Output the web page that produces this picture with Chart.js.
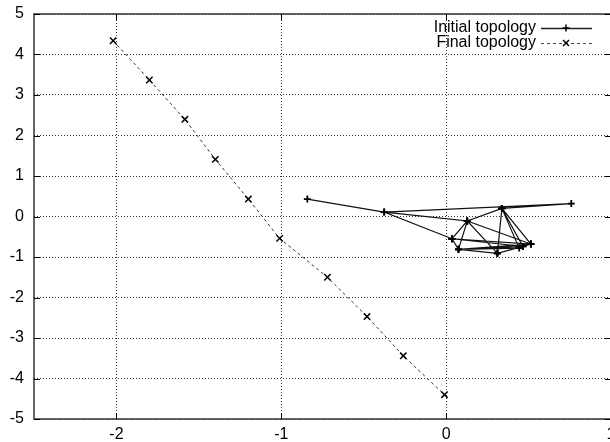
<!DOCTYPE html>
<html>
<head>
<meta charset="utf-8">
<script src="https://cdn.jsdelivr.net/npm/chart.js@4/dist/chart.umd.min.js"></script>
<style>
  body { margin: 0; background: white; overflow: hidden; }
  #caixa { width: 610px; height: 442px; overflow: hidden; }
</style>
</head>
<body>
<div id="caixa"><canvas id="grafico" width="617" height="442"></canvas></div>
<script>
var xTicks = [-2, -1, 0, 1];
var yTicks = [-5, -4, -3, -2, -1, 0, 1, 2, 3, 4, 5];

// topologia final (marcadores x, linha tracejada)
var finalX = [-2.02, -1.80, -1.585, -1.40, -1.20, -1.01, -0.72, -0.48, -0.26, -0.01];
var finalY = [4.34, 3.37, 2.40, 1.41, 0.43, -0.54, -1.50, -2.47, -3.44, -4.40];

// topologia inicial (marcadores +, linha cheia), na ordem do caminho
var initialX = [-0.842, -0.376, 0.759, 0.338, 0.128, 0.311, 0.466, 0.035, 0.514, 0.338, 0.443, 0.075,
  0.128, 0.514, 0.075, 0.311, 0.514, 0.035, -0.376, 0.128, 0.035, 0.075, 0.466, 0.338, 0.311];
var initialY = [0.43, 0.11, 0.32, 0.20, -0.11, -0.91, -0.74, -0.55, -0.68, 0.20, -0.78, -0.81,
  -0.11, -0.68, -0.81, -0.91, -0.68, -0.55, 0.11, -0.11, -0.55, -0.81, -0.74, 0.20, -0.91];

var legendas = ["Initial topology", "Final topology"];

function pontos(xs, ys) {
  var lista = [];
  for (var i = 0; i < xs.length; i++) {
    lista.push({ x: xs[i], y: ys[i] });
  }
  return lista;
}

var fonte = "Liberation Sans, Arial, sans-serif";

// moldura, marcas internas e legenda no estilo gnuplot
var moldura = {
  id: "moldura",
  afterDraw: function (chart) {
    var ctx = chart.ctx;
    var area = chart.chartArea;
    var sx = chart.scales.x;
    var sy = chart.scales.y;
    ctx.save();
    ctx.strokeStyle = "#333";
    ctx.lineWidth = 1.5;
    ctx.strokeRect(area.left, area.top, area.right - area.left, area.bottom - area.top);
    ctx.lineWidth = 1;
    ctx.strokeStyle = "#000";
    ctx.beginPath();
    for (var i = 0; i < xTicks.length; i++) {
      var px = Math.round(sx.getPixelForValue(xTicks[i])) + 0.5;
      ctx.moveTo(px, area.bottom);
      ctx.lineTo(px, area.bottom - 6);
      ctx.moveTo(px, area.top);
      ctx.lineTo(px, area.top + 6);
    }
    for (var j = 0; j < yTicks.length; j++) {
      var py = Math.round(sy.getPixelForValue(yTicks[j])) + 0.5;
      ctx.moveTo(area.left, py);
      ctx.lineTo(area.left + 6, py);
      ctx.moveTo(area.right, py);
      ctx.lineTo(area.right - 6, py);
    }
    ctx.stroke();

    // legenda
    ctx.font = "16px " + fonte;
    ctx.fillStyle = "#000";
    ctx.textAlign = "right";
    ctx.textBaseline = "middle";
    var linhas = [28, 43];
    for (var k = 0; k < legendas.length; k++) {
      var y = linhas[k];
      ctx.fillText(legendas[k], 536, y);
      ctx.beginPath();
      ctx.setLineDash(k == 0 ? [] : [3, 3]);
      ctx.strokeStyle = k == 0 ? "#222" : "#444";
      ctx.lineWidth = k == 0 ? 1.5 : 1;
      ctx.moveTo(541, y + 0.5);
      ctx.lineTo(592, y + 0.5);
      ctx.stroke();
      ctx.setLineDash([]);
      ctx.beginPath();
      ctx.strokeStyle = "#000";
      ctx.lineWidth = 1.5;
      if (k == 0) {
        ctx.moveTo(566, y - 3.5);
        ctx.lineTo(566, y + 3.5);
        ctx.moveTo(562.5, y);
        ctx.lineTo(569.5, y);
      } else {
        ctx.moveTo(563, y - 3);
        ctx.lineTo(569, y + 3);
        ctx.moveTo(563, y + 3);
        ctx.lineTo(569, y - 3);
      }
      ctx.stroke();
    }
    ctx.restore();
  },
};

const g_topologia = document.getElementById("grafico");

new Chart(g_topologia, {
  type: "scatter",
  data: {
    datasets: [
      {
        label: legendas[0],
        data: pontos(initialX, initialY),
        showLine: true,
        borderColor: "#111",
        borderWidth: 1.2,
        pointStyle: "cross",
        pointRadius: 3.5,
        pointBorderWidth: 1.8,
        pointBorderColor: "#000",
        pointBackgroundColor: "#000",
      },
      {
        label: legendas[1],
        data: pontos(finalX, finalY),
        showLine: true,
        borderColor: "#333",
        borderWidth: 1,
        borderDash: [3, 3],
        pointStyle: "crossRot",
        pointRadius: 4.5,
        pointBorderWidth: 1.5,
        pointBorderColor: "#000",
      },
    ],
  },
  options: {
    responsive: false,
    animation: false,
    layout: {
      padding: { left: 0, top: 14, right: 0, bottom: 0 },
    },
    plugins: {
      legend: { display: false },
      tooltip: { enabled: false },
    },
    scales: {
      x: {
        type: "linear",
        min: -2.5,
        max: 1,
        afterBuildTicks: function (scale) {
          scale.ticks = xTicks.map(function (v) { return { value: v }; });
        },
        afterFit: function (scale) {
          scale.height = 23;
          scale.paddingLeft = 0;
          scale.paddingRight = 0;
        },
        grid: {
          color: "rgba(0,0,0,0.8)",
          lineWidth: 1,
          drawTicks: false,
        },
        border: { display: false, dash: [1, 2] },
        ticks: {
          color: "#000",
          padding: 6,
          font: { family: fonte, size: 16 },
        },
      },
      y: {
        type: "linear",
        min: -5,
        max: 5,
        afterBuildTicks: function (scale) {
          scale.ticks = yTicks.map(function (v) { return { value: v }; });
        },
        afterFit: function (scale) {
          scale.width = 34;
          scale.paddingTop = 0;
          scale.paddingBottom = 0;
        },
        grid: {
          color: "rgba(0,0,0,0.8)",
          lineWidth: 1,
          drawTicks: false,
        },
        border: { display: false, dash: [1, 2] },
        ticks: {
          color: "#000",
          padding: 10,
          font: { family: fonte, size: 16 },
        },
      },
    },
  },
  plugins: [moldura],
});
</script>
</body>
</html>
